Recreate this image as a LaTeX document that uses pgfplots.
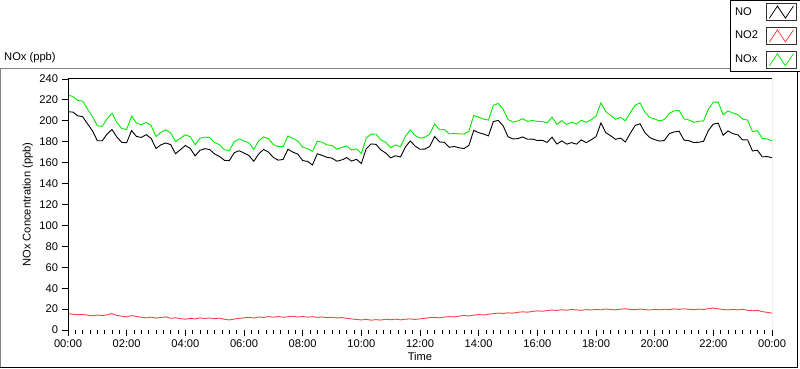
\documentclass[border=0pt]{standalone}
\usepackage{fontspec}
\setmainfont{Liberation Sans}
\usepackage{pgfplots}
\usepackage{pgfplotstable}
\pgfplotsset{compat=1.18}
\definecolor{noxgreen}{RGB}{0,235,0}
\definecolor{notwored}{RGB}{255,64,64}
\definecolor{frgray}{RGB}{130,130,130}
\pgfplotstableread{
t NO NOtwo NOx
0 208.6 15.8 224.4
10 208.4 15.0 223.4
20 204.8 14.6 219.4
30 204.0 14.9 218.9
40 197.1 14.2 211.3
50 190.5 13.6 204.1
60 181.0 14.3 195.3
70 180.9 13.8 194.7
80 187.4 14.5 201.9
90 191.7 15.6 207.3
100 184.5 13.9 198.4
110 179.4 13.2 192.6
120 179.1 12.6 191.7
130 190.7 13.8 204.5
140 185.1 12.9 198.0
150 184.1 12.2 196.3
160 186.8 11.6 198.4
170 183.2 12.3 195.5
180 173.6 11.4 185.0
190 177.1 11.9 189.0
200 178.8 12.6 191.4
210 177.3 11.2 188.5
220 168.5 11.7 180.2
230 172.5 10.9 183.4
240 176.4 10.3 186.7
250 173.6 11.2 184.8
260 166.5 10.6 177.1
270 171.8 11.6 183.4
280 173.4 11.0 184.4
290 172.5 11.5 184.0
300 168.3 10.8 179.1
310 165.9 11.3 177.2
320 162.2 10.2 172.4
330 162.0 9.6 171.6
340 169.5 10.5 180.0
350 171.4 11.2 182.6
360 169.2 11.6 180.8
370 166.9 12.1 179.0
380 161.3 11.4 172.7
390 168.3 12.5 180.8
400 172.6 12.0 184.6
410 170.1 12.8 182.9
420 165.0 12.3 177.3
430 162.4 12.9 175.3
440 163.1 12.2 175.3
450 172.9 12.7 185.6
460 170.0 13.2 183.2
470 168.2 12.4 180.6
480 162.0 12.9 174.9
490 161.2 12.3 173.5
500 157.8 12.8 170.6
510 168.5 12.1 180.6
520 166.9 12.5 179.4
530 165.1 11.8 176.9
540 164.3 12.2 176.5
550 161.4 11.5 172.9
560 162.6 11.9 174.5
570 164.8 11.2 176.0
580 161.5 10.6 172.1
590 163.2 10.1 173.3
600 159.2 9.6 168.8
610 173.3 10.2 183.5
620 177.9 9.4 187.3
630 177.5 9.9 187.4
640 172.2 9.5 181.7
650 169.2 10.3 179.5
660 164.6 9.8 174.4
670 166.6 10.4 177.0
680 165.4 9.7 175.1
690 174.9 10.3 185.2
700 180.7 10.6 191.3
710 175.9 10.1 186.0
720 172.8 10.7 183.5
730 173.0 11.2 184.2
740 175.6 11.8 187.4
750 185.0 12.1 197.1
760 179.8 11.6 191.4
770 179.4 12.4 191.8
780 174.7 12.8 187.5
790 175.5 12.5 188.0
800 174.2 13.3 187.5
810 173.5 13.9 187.4
820 176.6 13.4 190.0
830 190.9 14.2 205.1
840 188.7 14.8 203.5
850 187.4 14.3 201.7
860 185.6 15.1 200.7
870 199.3 15.6 214.9
880 200.4 16.2 216.6
890 195.3 15.8 211.1
900 184.8 16.4 201.2
910 182.7 16.1 198.8
920 183.0 16.9 199.9
930 184.6 17.4 202.0
940 182.4 17.0 199.4
950 182.5 17.8 200.3
960 181.2 18.3 199.5
970 181.4 17.9 199.3
980 179.4 18.6 198.0
990 184.4 19.1 203.5
1000 177.8 18.7 196.5
1010 180.9 19.4 200.3
1020 177.7 18.9 196.6
1030 179.2 19.6 198.8
1040 177.7 19.2 196.9
1050 181.8 18.8 200.6
1060 179.1 19.5 198.6
1070 181.9 19.1 201.0
1080 184.8 19.7 204.5
1090 197.9 19.3 217.2
1100 188.7 20.1 208.8
1110 185.7 19.6 205.3
1120 182.3 19.2 201.5
1130 183.5 19.9 203.4
1140 179.8 20.3 200.1
1150 188.0 19.7 207.7
1160 195.5 19.4 214.9
1170 197.2 20.0 217.2
1180 188.8 19.5 208.3
1190 184.0 19.1 203.1
1200 182.0 19.8 201.8
1210 180.6 19.3 199.9
1220 181.3 19.9 201.2
1230 187.8 19.4 207.2
1240 189.4 20.2 209.6
1250 190.1 19.7 209.8
1260 181.6 20.3 201.9
1270 181.0 19.8 200.8
1280 179.2 19.4 198.6
1290 179.5 20.0 199.5
1300 180.4 19.6 200.0
1310 190.9 20.4 211.3
1320 196.9 21.0 217.9
1330 197.7 20.2 217.9
1340 186.2 19.6 205.8
1350 190.3 19.2 209.5
1360 187.7 19.8 207.5
1370 186.6 19.3 205.9
1380 181.8 19.7 201.5
1390 181.9 18.9 200.8
1400 171.2 18.4 189.6
1410 171.9 18.8 190.7
1420 165.6 17.6 183.2
1430 165.8 16.9 182.7
1440 164.8 16.2 181.0
}\datatable
\begin{document}
\fontsize{11.2}{13}\selectfont
\begin{tikzpicture}
\useasboundingbox (0bp,0bp) rectangle (800bp,369bp);
% outer panel
\draw[frgray,line width=1bp] (0.5bp,2bp) -- (0.5bp,300.5bp) -- (797bp,300.5bp);
\draw[black,line width=1bp] (0.5bp,1.5bp) -- (797.5bp,1.5bp) -- (797.5bp,300.5bp);
\node[anchor=west,inner sep=0pt] at (4bp,311bp) {NOx (ppb)};
\begin{axis}[
  at={(68bp,39bp)}, anchor=south west,
  scale only axis, width=704bp, height=251bp,
  xmin=0, xmax=1440, ymin=0, ymax=240,
  xtick={0,120,...,1440},
  xticklabels={00:00,02:00,04:00,06:00,08:00,10:00,12:00,14:00,16:00,18:00,20:00,22:00,00:00},
  minor x tick num=7,
  ytick={0,20,...,240},
  xtick pos=bottom, ytick pos=left,
  tick align=outside,
  major tick length=6bp, minor tick length=3.5bp,
  tick style={black, line width=0.9bp},
  axis line style={draw=none},
  /pgf/number format/assume math mode=true,
  ticklabel style={font=\fontsize{11.2}{13}\selectfont},
  xlabel={Time}, ylabel={NOx Concentration (ppb)},
  label style={font=\fontsize{11.2}{13}\selectfont},
  xlabel style={yshift=3bp},
  ylabel style={yshift=-1bp},
  legend plot pos=right,
  legend cell align=left,
  legend style={at={(rel axis cs:1.0398,1.3147)}, anchor=north east,
     draw=black, fill=white, font=\fontsize{11.2}{13}\selectfont,
     inner xsep=3bp, inner ysep=3bp, row sep=6bp, column sep=6bp},
  legend image code/.code={
     \draw[black!80, fill=white, line width=0.8bp] (0bp,-8.5bp) rectangle (30bp,8.5bp);
     \draw[#1, line width=0.8bp] (3bp,-6bp) -- (11bp,6bp) -- (19bp,-6bp) -- (27bp,6bp);
  },
]
\addplot[black, line width=0.9bp] table[x=t, y=NO] {\datatable};
\addlegendentry{NO}
\addplot[notwored, line width=0.9bp] table[x=t, y=NOtwo] {\datatable};
\addlegendentry{NO2}
\addplot[noxgreen, line width=0.9bp] table[x=t, y=NOx] {\datatable};
\addlegendentry{NOx}
\draw[black, line width=1bp] (rel axis cs:0,0) -- (rel axis cs:0,1) -- (rel axis cs:1,1);
\draw[frgray, line width=1bp] (rel axis cs:0,0) -- (rel axis cs:1,0) -- (rel axis cs:1,1);
\end{axis}
\end{tikzpicture}
\end{document}
